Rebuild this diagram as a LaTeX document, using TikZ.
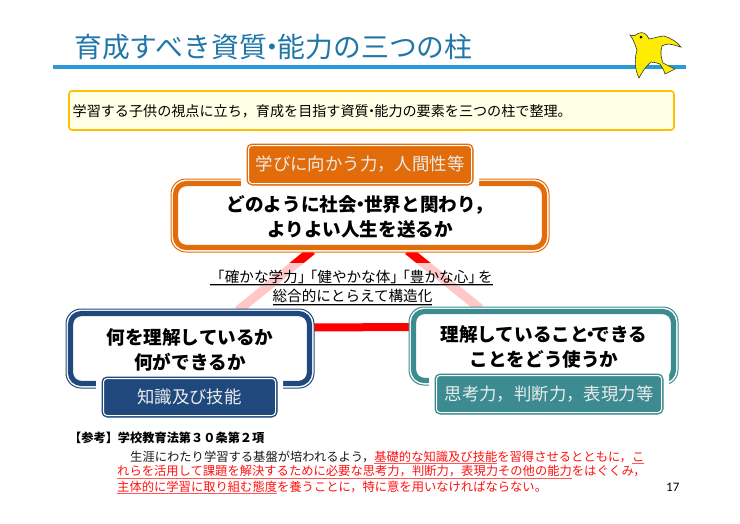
\documentclass[tikz,border=0pt]{standalone}
\usepackage{fontspec}
\usetikzlibrary{calc,backgrounds}
\setmainfont{Noto Sans CJK JP}
\newfontfamily\latinnum{Carlito}
\definecolor{orangeC}{HTML}{E36C0A}
\definecolor{navyC}{HTML}{1F497D}
\definecolor{tealC}{HTML}{3B8B90}
\definecolor{titleC}{HTML}{2176A8}
\definecolor{ruleC}{HTML}{2A9BD8}
\definecolor{goldC}{HTML}{FFC000}
\definecolor{paleC}{HTML}{FFFFE6}
\definecolor{redC}{HTML}{FF1010}
\newcommand{\nd}{\kern-.3em・\kern-.3em}
\newcommand{\ndh}{\kern-.42em・\kern-.42em}
\newcommand{\lbk}{\kern-.33em「}
\newcommand{\rbk}{」\kern-.33em}
\newcommand{\fc}{\symbol{"FF0C}}
\newcommand{\fd}[1]{\symbol{\numexpr"FF10+#1\relax}}
\newcommand{\ulr}[1]{\setbox0\hbox{\color{redC}#1}\leavevmode\rlap{\color{redC!70}\raisebox{-2.4pt}{\rule{\wd0}{.7pt}}}\box0}
\newcommand{\ulg}[1]{\setbox0\hbox{#1}\leavevmode\rlap{\raisebox{-3.2pt}{\rule{\wd0}{.9pt}}}\rlap{\color{black!35}\raisebox{-4.2pt}{\rule{\wd0}{.9pt}}}\box0}
\tikzset{
  x=1pt,y=-1pt,
  frameouter/.style={rectangle,rounded corners=15pt,fill=white,line width=1pt,inner sep=0pt},
  framethick/.style={line width=5.2pt,rounded corners=11pt},
  halo/.style={rectangle,fill=white,rounded corners=6pt,inner sep=0pt},
  tag/.style={rectangle,rounded corners=5pt,line width=1pt,inner sep=0pt,text=white!92!black,font=\fontsize{17.4}{20}\selectfont},
  heading/.style={font=\bfseries\fontsize{18.6}{25}\selectfont,align=center,inner sep=0pt,text=black},
  redlink/.style={draw=red,line width=9pt},
  note/.style={anchor=west,inner sep=0pt,font=\fontsize{12.3}{14}\selectfont,text=black!90},
}
\newcommand{\inframe}[2]{\draw[#2,framethick] ($(#1.north west)+(5,5)$) rectangle ($(#1.south east)+(-5,-5)$);}
\newcommand{\intag}[1]{\draw[white,line width=1pt,rounded corners=3.5pt] ($(#1.north west)+(2,2)$) rectangle ($(#1.south east)+(-2,-2)$);}
\begin{document}
\begin{tikzpicture}
\useasboundingbox (0,0) rectangle (740,523);
% title
\node[anchor=west,inner sep=0pt,text=titleC,font=\fontsize{27.8}{30}\selectfont] (title) at (74,47) {育成すべき資質\nd 能力の三つの柱};
\draw[ruleC,line width=4pt] (53,67) coordinate (ruleL) -- (686,67) coordinate (ruleR);
% bird
\filldraw[fill=yellow!95!orange,draw=black!80,line width=.6pt] (630,35)
 .. controls (634,36) and (636,36) .. (638,33.5)
 .. controls (643,31) and (647,34) .. (649,39)
 .. controls (655,38) and (660,36) .. (664,36)
 .. controls (671,38) and (677,42) .. (681,47)
 .. controls (676,46) and (673,44) .. (669,44)
 .. controls (666,44) and (664,45) .. (662,46)
 .. controls (660,52) and (661,58) .. (663,63)
 -- (675,69) -- (665,74)
 .. controls (664,70) and (662,67) .. (660,64)
 .. controls (657,63) and (654,62) .. (651,62)
 .. controls (646,66) and (642,72) .. (639,78)
 .. controls (635,70) and (634,60) .. (637,50)
 .. controls (635,45) and (634,40) .. (630,35) -- cycle;
\fill[black] (641,37) circle (1.5);
% note box
\node[rectangle,draw=goldC,fill=paleC,rounded corners=3pt,line width=1.6pt,minimum width=605pt,minimum height=39pt,inner sep=0pt] (intro) at (371.5,110.5) {};
\node[anchor=west,inner sep=0pt,font=\fontsize{14.1}{16}\selectfont,text=black] (introtext) at (72.5,111) {学習する子供の視点に立ち\fc 育成を目指す資質\nd 能力の要素を三つの柱で整理。};
% top frame
\node[frameouter,draw=orangeC,minimum width=378pt,minimum height=73pt] (main) at (360,215.5) {};
\inframe{main}{orangeC}
\node[halo,minimum width=238pt,minimum height=53pt] (mainhalo) at (360,165) {};
\node[tag,draw=orangeC,fill=orangeC,minimum width=226pt,minimum height=41pt] (maintag) at (360,164.5) {学びに向かう力\fc 人間性等};
\intag{maintag}
\node[heading] (maintext) at (360,217) {どのように社会\nd 世界と関わり\fc\\よりよい人生を送るか};
% left frame
\node[frameouter,draw=navyC,minimum width=248pt,minimum height=79pt] (left) at (190,348.5) {};
\inframe{left}{navyC}
\node[halo,minimum width=187pt,minimum height=52pt] (lefthalo) at (189.5,397) {};
\node[tag,draw=navyC,fill=navyC,minimum width=175pt,minimum height=40pt] (lefttag) at (189.5,397) {知識及び技能};
\intag{lefttag}
\node[heading] (lefttext) at (190,350) {何を理解しているか\\何ができるか};
% right frame
\node[frameouter,draw=tealC,minimum width=269pt,minimum height=78pt] (right) at (543.5,346) {};
\inframe{right}{tealC}
\node[halo,minimum width=240pt,minimum height=52pt] (righthalo) at (549,394) {};
\node[tag,draw=tealC,fill=tealC,minimum width=228pt,minimum height=40pt] (righttag) at (549,394) {思考力\fc 判断力\fc 表現力等};
\intag{righttag}
\node[heading] (righttext) at (544,347) {理解していること\ndh できる\\ことをどう使うか};
% links behind the frames
\begin{scope}[on background layer]
\draw[redlink] ($(main.south)+(-48,-2)$) -- ($(left.north)+(48,2)$);
\draw[redlink] ($(main.south)+(48,-2)$) -- ($(right.north)+(-63.5,2)$);
\fill[white,opacity=.78] (195,263) rectangle (525,310);
\draw[draw=red,line width=8pt] ($(left.east)+(-2,-21)$) -- ($(right.west)+(2,-19)$);
\end{scope}
% centre text
\node[inner sep=0pt,font=\fontsize{14.6}{20}\selectfont,text=black] (centre1) at (351.5,278) {\ulg{\kern.33em\lbk 確かな学力\rbk\lbk 健やかな体\rbk\lbk 豊かな心\rbk を}};
\node[inner sep=0pt,font=\fontsize{14.6}{20}\selectfont,text=black] (centre2) at (352.5,297.5) {\ulg{総合的にとらえて構造化}};
% footer
\node[anchor=west,inner sep=0pt,font=\bfseries\fontsize{12.2}{14}\selectfont,text=black] (ref) at (69,438) {【参考】学校教育法第\fd{3}\fd{0}条第\fd{2}項};
\node[note] (l1) at (130,457) {生涯にわたり学習する基盤が培われるよう\fc\ulr{基礎的な知識及び技能}を習得させるとともに\fc\ulr{こ}};
\node[note] (l2) at (117,472) {\ulr{れらを活用して課題を解決するために必要な思考力\fc 判断力\fc 表現力その他の能力}をはぐくみ\fc};
\node[note] (l3) at (117,487) {\ulr{主体的に学習に取り組む態度}を養うことに\fc 特に意を用いなければならない。};
\node[anchor=west,inner sep=0pt,font=\latinnum\fontsize{13}{14}\selectfont,text=black] (page) at (666,487) {17};
\end{tikzpicture}
\end{document}
